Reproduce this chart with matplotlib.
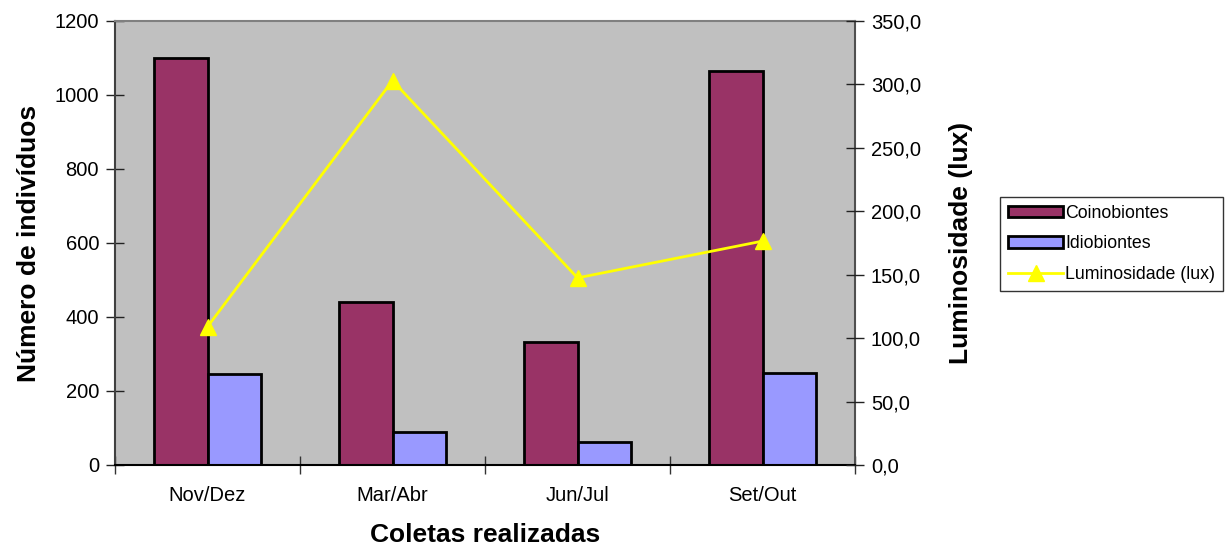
import matplotlib
matplotlib.use("Agg")
import matplotlib.pyplot as plt
import numpy as np
from matplotlib.lines import Line2D

plt.rcParams['font.family'] = ['Liberation Sans', 'DejaVu Sans']

coletas = ["Nov/Dez", "Mar/Abr", "Jun/Jul", "Set/Out"]
coinobiontes = [1100, 441, 333, 1065]
idiobiontes = [247, 88, 62, 250]
luminosidade = [109.0, 303.0, 147.5, 176.5]

left_ticks = [0, 200, 400, 600, 800, 1000, 1200]
right_ticks = [0, 50, 100, 150, 200, 250, 300, 350]

fig = plt.figure(figsize=(12.3, 5.49), dpi=100)
ax = fig.add_axes([115/1230, 84/549, 740/1230, 444/549])
ax.set_facecolor("#c0c0c0")

x = np.arange(len(coletas))
w = 0.287
ax.bar(x - w/2, coinobiontes, w, color="#993366", edgecolor="black", linewidth=2, zorder=2, label="Coinobiontes")
ax.bar(x + w/2, idiobiontes, w, color="#9999ff", edgecolor="black", linewidth=2, zorder=2, label="Idiobiontes")

ax.set_xlim(-0.5, len(coletas) - 0.5)
ax.set_ylim(0, 1200)
ax.set_yticks(left_ticks)
ax.set_xticks(x)
ax.set_xticklabels(coletas)
ax.set_xticks(np.arange(len(coletas) + 1) - 0.5, minor=True)
ax.tick_params(axis="x", which="major", length=0, pad=15, labelsize=14.5)
ax.tick_params(axis="x", which="minor", direction="inout", length=13, width=1, color="#333333")
ax.tick_params(axis="y", direction="inout", length=13, width=1, labelsize=14.5, pad=5, color="#222222")

for side, col in [("left", "#404040"), ("bottom", "#000000"), ("top", "#808080"), ("right", "#505050")]:
    ax.spines[side].set_color(col)
    ax.spines[side].set_linewidth(1.5)

ax.set_ylabel("Número de indivíduos", fontsize=19, fontweight="bold", labelpad=10)
ax.set_xlabel("Coletas realizadas", fontsize=19, fontweight="bold", labelpad=13)

ax2 = ax.twinx()
ax2.plot(x, luminosidade, color="#ffff00", linewidth=2, marker="^", markersize=12,
         markeredgecolor="#ffff00", zorder=3, label="Luminosidade (lux)")
ax2.set_ylim(0, 350)
ax2.set_yticks(right_ticks)
ax2.set_yticklabels([f"{v:.1f}".replace(".", ",") for v in right_ticks])
ax2.tick_params(axis="y", direction="inout", length=13, width=1, labelsize=14.5, pad=5, color="#222222")
for side in ax2.spines:
    ax2.spines[side].set_visible(False)
ax2.set_ylabel("Luminosidade (lux)", fontsize=19, fontweight="bold", labelpad=20)

handles = [
    plt.Rectangle((0, 0), 1, 1, facecolor="#993366", edgecolor="black", linewidth=2),
    plt.Rectangle((0, 0), 1, 1, facecolor="#9999ff", edgecolor="black", linewidth=2),
    Line2D([], [], color="#ffff00", linewidth=2, marker="^", markersize=11, markeredgecolor="#ffff00"),
]
leg = fig.legend(handles, ["Coinobiontes", "Idiobiontes", "Luminosidade (lux)"],
                 loc="upper left", bbox_to_anchor=(1000/1230, 1 - 197/549),
                 fontsize=12.8, frameon=True, fancybox=False, borderpad=0.45,
                 handlelength=3.1, handleheight=0.6, handletextpad=0.1, labelspacing=0.75,
                 borderaxespad=0)
leg.get_frame().set_edgecolor("black")
leg.get_frame().set_linewidth(1)

fig.savefig("out.png", dpi=100, facecolor="white")
